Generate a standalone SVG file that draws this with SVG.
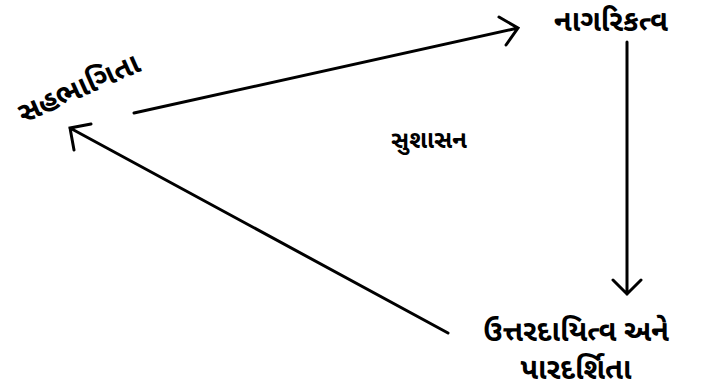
<svg xmlns="http://www.w3.org/2000/svg" width="704" height="392" viewBox="0 0 704 392">
<style>
text{font-family:"Noto Sans Gujarati","Noto Sans","Liberation Sans",sans-serif;font-weight:bold;font-size:29px;fill:#000;text-anchor:middle}
.c{stroke:#000;stroke-width:3;fill:none;stroke-linecap:round;stroke-linejoin:miter}
</style>
<rect width="704" height="392" fill="#fff"/>
<g id="connectors">
<path class="c" d="M134,113 L518,28 M499,17 L518,28 L506,45"/>
<path class="c" d="M627,42 L627,294 M613,280 L627,294 L641,280"/>
<path class="c" d="M448,333 L70,128 M91,124 L70,128 L74,150"/>
</g>
<g id="n1" transform="translate(79,89) rotate(-24)"><text x="0" y="9">સહભાગિતા</text></g>
<g id="n2"><text x="611" y="31">નાગરિકત્વ</text></g>
<g id="n3"><text x="429" y="148" style="font-size:24px">સુશાસન</text></g>
<g id="n4"><text x="576" y="341">ઉત્તરદાયિત્વ અને</text><text x="576" y="379">પારદર્શિતા</text></g>
</svg>
